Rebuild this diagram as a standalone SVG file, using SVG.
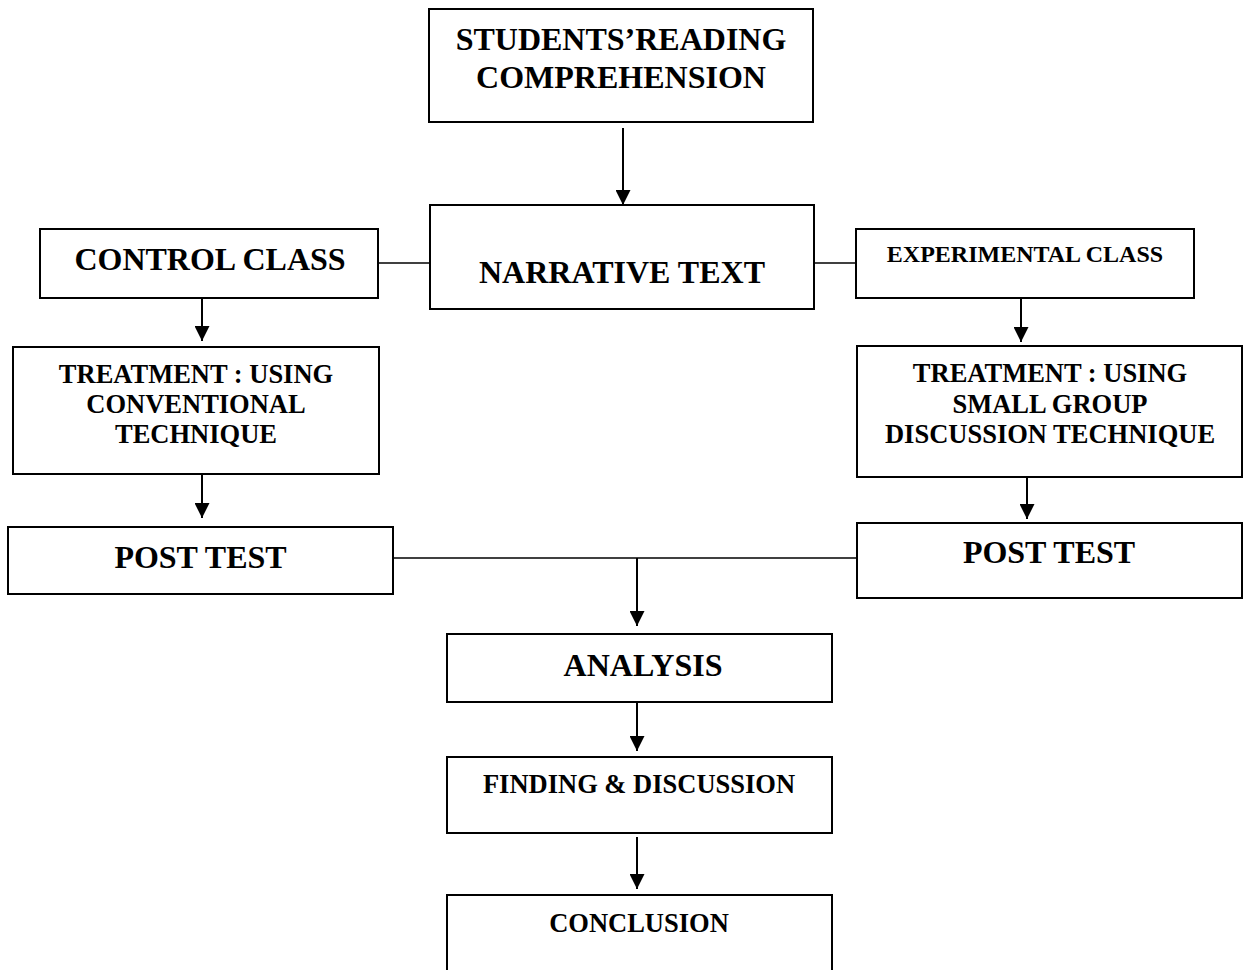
<svg xmlns="http://www.w3.org/2000/svg" width="1246" height="970" viewBox="0 0 1246 970">
<style>
.box{fill:#fff;stroke:#000;stroke-width:2}
.t{font-family:"Liberation Serif","Times New Roman",serif;font-weight:bold;fill:#000;text-anchor:middle}
.l{font-size:32px}
.m{font-size:26.5px}
.s{font-size:24px}
.c{fill:none;stroke:#000;stroke-width:2}
.h{fill:none;stroke:#000;stroke-width:1.5}
</style>
<defs>
<marker id="ah" markerUnits="userSpaceOnUse" markerWidth="15" markerHeight="15" refX="15" refY="7.5" orient="auto" viewBox="0 0 15 15">
<path d="M0,0 L15,7.5 L0,15 z" fill="#000"/>
</marker>
</defs>
<g id="connectors">
<line class="c" x1="623" y1="128" x2="623" y2="205" marker-end="url(#ah)"/>
<line class="h" x1="378" y1="263" x2="430" y2="263"/>
<line class="h" x1="814" y1="263" x2="856" y2="263"/>
<line class="c" x1="202" y1="298" x2="202" y2="341" marker-end="url(#ah)"/>
<line class="c" x1="202" y1="474" x2="202" y2="518" marker-end="url(#ah)"/>
<line class="c" x1="1021" y1="298" x2="1021" y2="342" marker-end="url(#ah)"/>
<line class="c" x1="1027" y1="477" x2="1027" y2="519" marker-end="url(#ah)"/>
<line class="h" x1="393" y1="558" x2="857" y2="558"/>
<line class="c" x1="637" y1="558" x2="637" y2="626" marker-end="url(#ah)"/>
<line class="c" x1="637" y1="698" x2="637" y2="751" marker-end="url(#ah)"/>
<line class="c" x1="637" y1="837" x2="637" y2="889" marker-end="url(#ah)"/>
</g>
<g id="students-reading">
<rect class="box" x="429" y="9" width="384" height="113"/>
<text class="t l" x="621" y="50">STUDENTS’READING</text>
<text class="t l" x="621" y="88">COMPREHENSION</text>
</g>
<g id="narrative-text">
<rect class="box" x="430" y="205" width="384" height="104"/>
<text class="t l" x="622" y="283">NARRATIVE TEXT</text>
</g>
<g id="control-class">
<rect class="box" x="40" y="229" width="338" height="69"/>
<text class="t l" x="210" y="270">CONTROL CLASS</text>
</g>
<g id="experimental-class">
<rect class="box" x="856" y="229" width="338" height="69"/>
<text class="t s" x="1025" y="262">EXPERIMENTAL CLASS</text>
</g>
<g id="treatment-conventional">
<rect class="box" x="13" y="347" width="366" height="127"/>
<text class="t m" x="196" y="383">TREATMENT : USING</text>
<text class="t m" x="196" y="413">CONVENTIONAL</text>
<text class="t m" x="196" y="443">TECHNIQUE</text>
</g>
<g id="treatment-sgd">
<rect class="box" x="857" y="346" width="385" height="131"/>
<text class="t m" x="1050" y="382">TREATMENT : USING</text>
<text class="t m" x="1050" y="413">SMALL GROUP</text>
<text class="t m" x="1050" y="443">DISCUSSION TECHNIQUE</text>
</g>
<g id="post-test-control">
<rect class="box" x="8" y="527" width="385" height="67"/>
<text class="t l" x="200.5" y="568">POST TEST</text>
</g>
<g id="post-test-experimental">
<rect class="box" x="857" y="523" width="385" height="75"/>
<text class="t l" x="1049" y="563">POST TEST</text>
</g>
<g id="analysis">
<rect class="box" x="447" y="634" width="385" height="68"/>
<text class="t l" x="643" y="676">ANALYSIS</text>
</g>
<g id="finding-discussion">
<rect class="box" x="447" y="757" width="385" height="76"/>
<text class="t m" x="639" y="793">FINDING &amp; DISCUSSION</text>
</g>
<g id="conclusion">
<path class="box" d="M447,972 V895 H832 V972"/>
<text class="t m" x="639" y="932">CONCLUSION</text>
</g>
</svg>
